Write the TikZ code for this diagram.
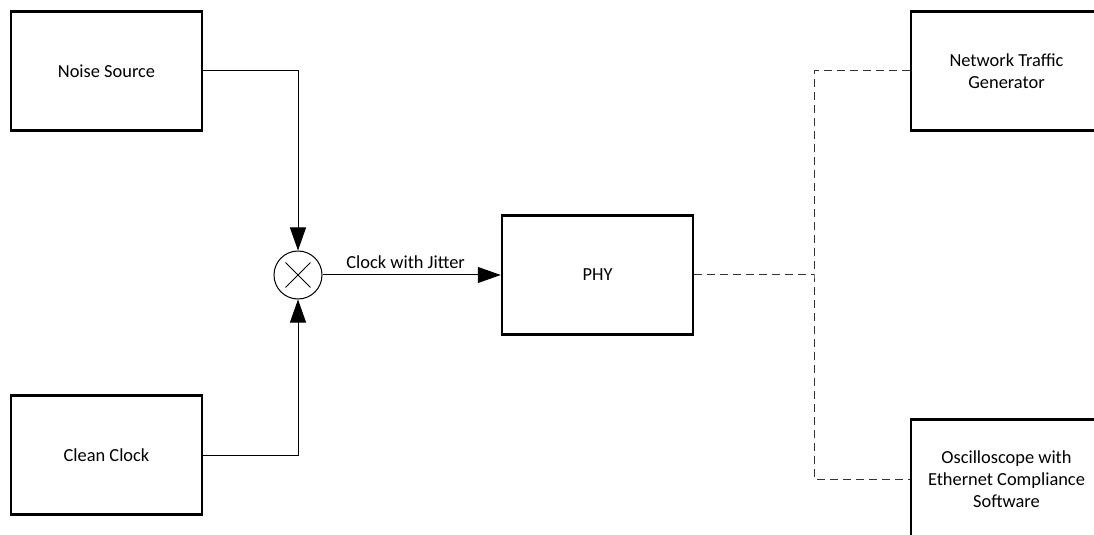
\documentclass[tikz,border=0pt]{standalone}
\usepackage{fontspec}
\setmainfont{Carlito}
\usetikzlibrary{arrows.meta}
\usetikzlibrary{calc}

\begin{document}
\begin{tikzpicture}[x=0.5pt, y=-0.5pt,
    blk/.style={draw, line width=1.25pt, minimum width=95.5pt, minimum height=59.5pt, align=center},
    sig/.style={line width=0.5pt, -{Triangle[length=11.5pt, width=8pt]}},
    dsh/.style={line width=0.5pt, draw=black!80, dash pattern=on 4pt off 2.5pt}]
          \fontsize{9.2}{11}\selectfont
          \useasboundingbox (0,0) rectangle (1094,535);
          \clip (0,0) rectangle (1094,535);
          \node[blk] (noise) at (106.5,71) {Noise Source};
          \node[blk, below of=noise, node distance=192pt] (clean) {Clean Clock};
          \node[draw, circle, line width=0.5pt, minimum size=24pt, inner sep=0pt] (mix) at (298,275) {};
          \draw[line width=0.5pt] ($(mix)!0.72!(mix.north west)$) -- ($(mix)!0.72!(mix.south east)$);
          \draw[line width=0.5pt] ($(mix)!0.72!(mix.north east)$) -- ($(mix)!0.72!(mix.south west)$);
          \node[blk, right of=mix, node distance=149.75pt] (phy) {PHY};
          \node[blk] (traffic) at (1006.5,71) {Network Traffic\\Generator};
          \node[blk] (scope) at (1006.5,479) {Oscilloscope with\\Ethernet Compliance\\Software};
          \coordinate (tap) at (814,275);
          \draw[sig] (noise.east) -| (mix.north);
          \draw[sig] (clean.east) -| (mix.south);
          \draw[sig] (mix) -- node[above, xshift=-3pt] {Clock with Jitter} (phy);
          \draw[dsh] (phy.east) -- (tap);
          \draw[dsh] (traffic.west) -| (tap) |- (scope.west);
        \end{tikzpicture}
\end{document}
